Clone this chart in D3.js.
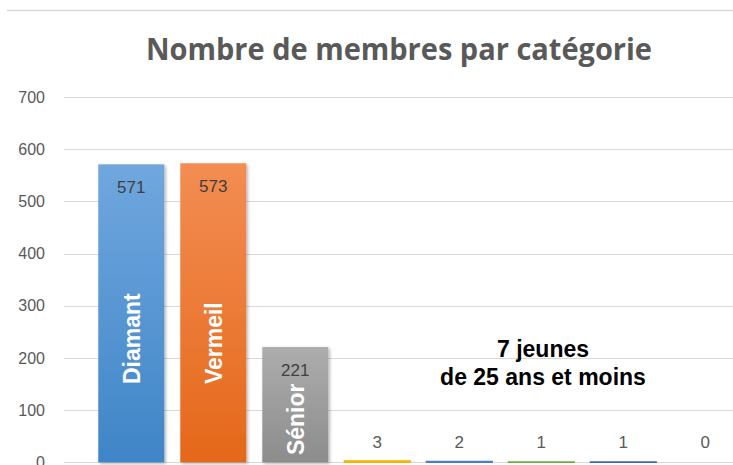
<!DOCTYPE html>
<html>
<head>
<meta charset="utf-8">
<script src="https://cdn.jsdelivr.net/npm/d3@7"></script>
<style>
  body { margin: 0; background: #fff; }
  svg { display: block; }
</style>
</head>
<body>
<div id="chart"></div>
<script>
// data
const categories = ['Diamant', 'Vermeil', 'Sénior', 'c4', 'c5', 'c6', 'c7', 'c8'];
const values = [571, 573, 221, 3, 2, 1, 1, 0];
const barLabels = ['Diamant', 'Vermeil', 'Sénior'];
const yTicks = [0, 100, 200, 300, 400, 500, 600, 700];
const title = 'Nombre de membres par catégorie';
const note = ['7 jeunes', 'de 25 ans et moins'];

// colours: [top, bottom] of each bar's gradient
const colors = [
  ['#70a7de', '#3f85c7'],
  ['#f38d53', '#e4681a'],
  ['#adadad', '#8c8c8c'],
  ['#ffc000', '#f2b400'],
  ['#5b8fd8', '#4a7fc8'],
  ['#78bf4f', '#6aaf42'],
  ['#4a7cc4', '#3a6bb0'],
  ['#b85a1c', '#9e480e'],
];

const width = 733;
const height = 465;

const svg = d3.select('#chart')
  .append('svg')
    .attr('width', width)
    .attr('height', height);

const defs = svg.append('defs');

colors.forEach((c, i) => {
  const g = defs.append('linearGradient')
    .attr('id', `grad${i}`)
    .attr('x1', 0).attr('y1', 0)
    .attr('x2', 0).attr('y2', 1);
  g.append('stop').attr('offset', '0%').attr('stop-color', c[0]);
  g.append('stop').attr('offset', '100%').attr('stop-color', c[1]);
});

defs.append('filter')
    .attr('id', 'shadow')
    .attr('x', '-20%').attr('y', '-20%')
    .attr('width', '140%').attr('height', '140%')
  .append('feDropShadow')
    .attr('dx', 1.5)
    .attr('dy', 1.5)
    .attr('stdDeviation', 1.6)
    .attr('flood-color', '#000')
    .attr('flood-opacity', 0.3);

// top border
svg.append('line')
  .attr('x1', 7).attr('x2', width)
  .attr('y1', 10.5).attr('y2', 10.5)
  .attr('stroke', '#d9d9d9')
  .attr('stroke-width', 1.5);

// title
svg.append('text')
  .attr('x', 399)
  .attr('y', 59.5)
  .attr('text-anchor', 'middle')
  .attr('font-family', '"Open Sans", sans-serif')
  .attr('font-weight', 700)
  .attr('font-size', 31)
  .attr('textLength', 506)
  .attr('lengthAdjust', 'spacingAndGlyphs')
  .attr('fill', '#595959')
  .text(title);

const xScale = d3.scaleBand()
  .domain(categories)
  .range([90.3, 746.3])
  .paddingInner(0.195)
  .paddingOuter(0.0975);

const yScale = d3.scaleLinear()
  .domain([0, 700])
  .range([462.4, 97]);

// gridlines
svg.append('g')
  .attr('class', 'grid')
  .selectAll('line')
  .data(yTicks)
  .enter().append('line')
    .attr('x1', 64)
    .attr('x2', width)
    .attr('y1', d => Math.round(yScale(d)) + 0.5)
    .attr('y2', d => Math.round(yScale(d)) + 0.5)
    .attr('stroke', '#d9d9d9')
    .attr('stroke-width', 1);

// y axis labels
const yAxis = d3.axisLeft(yScale)
  .tickValues(yTicks)
  .tickSize(0)
  .tickPadding(0);

const yG = svg.append('g')
  .attr('transform', 'translate(45, 0)')
  .call(yAxis);
yG.select('.domain').remove();
yG.selectAll('text')
  .attr('font-family', '"Liberation Sans", Arial, sans-serif')
  .attr('font-size', 16)
  .attr('fill', '#595959');

// bars
svg.append('g')
  .selectAll('rect')
  .data(values)
  .enter().append('rect')
    .attr('x', (d, i) => xScale(categories[i]))
    .attr('y', d => yScale(d))
    .attr('width', xScale.bandwidth())
    .attr('height', d => yScale(0) - yScale(d))
    .attr('fill', (d, i) => `url(#grad${i})`)
    .attr('stroke', (d, i) => d > 0 && d < 10 ? colors[i][1] : 'none')
    .attr('stroke-width', 1.2)
    .attr('filter', d => d > 10 ? 'url(#shadow)' : null);

// value labels
svg.append('g')
  .selectAll('text')
  .data(values)
  .enter().append('text')
    .attr('x', (d, i) => xScale(categories[i]) + xScale.bandwidth() / 2)
    .attr('y', d => {
      const h = yScale(0) - yScale(d);
      return h > 40 ? yScale(d) + 23 : yScale(0) - 20.5;
    })
    .attr('dy', '0.35em')
    .attr('text-anchor', 'middle')
    .attr('font-family', '"Liberation Sans", Arial, sans-serif')
    .attr('font-size', 17)
    .attr('fill', (d, i) => i < 3 ? '#404040' : '#595959')
    .text(d => d);

// rotated category names inside the bars
const labelStart = [150, 150, 14];
svg.append('g')
  .selectAll('text')
  .data(barLabels)
  .enter().append('text')
    .attr('transform', (d, i) => {
      const cx = xScale(categories[i]) + xScale.bandwidth() / 2;
      return `translate(${cx}, ${yScale(labelStart[i])}) rotate(-90)`;
    })
    .attr('dy', '0.36em')
    .attr('text-anchor', 'start')
    .attr('font-family', '"Liberation Sans", Arial, sans-serif')
    .attr('font-weight', 700)
    .attr('font-size', 23)
    .attr('fill', '#fff')
    .text(d => d);

// annotation
const noteText = svg.append('text')
  .attr('text-anchor', 'middle')
  .attr('font-family', '"Liberation Sans", Arial, sans-serif')
  .attr('font-weight', 700)
  .attr('font-size', 23)
  .attr('fill', '#000');

noteText.selectAll('tspan')
  .data(note)
  .enter().append('tspan')
    .attr('x', 543)
    .attr('y', (d, i) => 357 + i * 27.5)
    .text(d => d);
</script>
</body>
</html>
